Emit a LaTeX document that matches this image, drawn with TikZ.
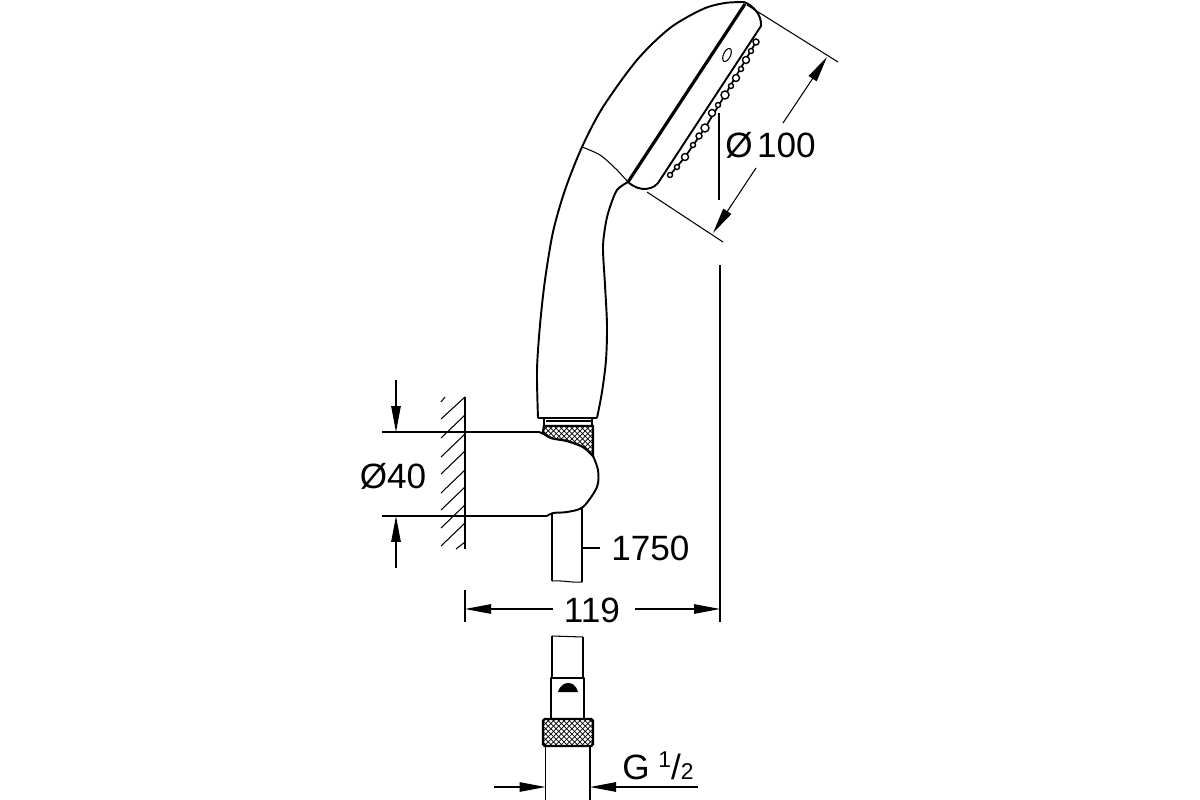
\documentclass[tikz,border=0pt]{standalone}
\usepackage{fontspec}
\setmainfont{Liberation Sans}
\usetikzlibrary{arrows.meta,patterns}
\tikzset{
	outline/.style={line width=1.1pt,line join=round},
	thinline/.style={line width=0.6pt},
	dimline/.style={line width=0.6pt,-{Triangle[length=0.52cm,width=0.19cm]}},
	dimtext/.style={inner sep=0pt,font=\fontsize{20}{24}\selectfont},
	knurl/.style={line width=1.3pt,pattern=crosshatch},
	nozzle/.style={line width=0.8pt,fill=white}
}
\begin{document}
\begin{tikzpicture}[x=0.02cm,y=-0.02cm]
	\useasboundingbox (0,0) rectangle (1200,800);

	% handle
	\draw[outline] plot[smooth] coordinates {(538,418) (537,370) (540,325) (545,280) (553,232) (565,190) (582,147) (603,107) (637,60) (670,28) (703,9) (725,3) (744,2)};
	\draw[outline] plot[smooth] coordinates {(597,418) (602,392) (606,360) (607,325) (605,285) (603,247) (606,222) (610,207) (617,190) (628,182)};
	\draw[outline] (538,418) -- (597,418);
	\draw[thinline] plot[smooth] coordinates {(582,147) (600,155) (616,169) (628,182)};

	% head
	\draw[line width=1.8pt] (745,4) -- (628,182);
	\draw[outline] (744,2) .. controls (752,5) and (762,14) .. (761,26) -- (660,180) .. controls (655,190) and (640,193) .. (628,182);
	\draw[thinline,rotate around={-25:(727,55)}] (727,55) ellipse (3.5 and 7);
	\draw[line width=1pt] (670,175) -- (685,157) -- (705,128) -- (725,95) -- (756,42);
	\draw[nozzle] (670,175) circle (2.5);
	\draw[nozzle] (677,167) circle (2.5);
	\draw[nozzle] (685,157) circle (3.5);
	\draw[nozzle] (693,145) circle (2.5);
	\draw[nozzle] (699,136) circle (3);
	\draw[nozzle] (705,128) circle (4);
	\draw[nozzle] (712,113) circle (3.5);
	\draw[nozzle] (718,105) circle (2.5);
	\draw[nozzle] (725,95) circle (4);
	\draw[nozzle] (731,86) circle (2.5);
	\draw[nozzle] (736,78) circle (3.5);
	\draw[nozzle] (741,69) circle (2.5);
	\draw[nozzle] (746,60) circle (3.5);
	\draw[nozzle] (751,51) circle (2.5);
	\draw[nozzle] (756,42) circle (3);

	% diameter 100
	\coordinate (headtop) at (747,5);
	\coordinate (headtopend) at (838,62);
	\coordinate (headlow) at (647,192);
	\coordinate (headlowend) at (723,242);
	\coordinate (dimtop) at (827,57);
	\coordinate (dimlow) at (713,233);
	\node[dimtext,anchor=base east] (dia) at (816,158) {Ø\hspace{2.5pt}100};
	\draw[thinline] (headtop) -- (headtopend);
	\draw[thinline] (headlow) -- (headlowend);
	\draw[dimline] (783,123) -- (dimtop);
	\draw[dimline] (756,168) -- (dimlow);
	\draw[thinline] (719,113) -- (719,200);

	% wall with hatching
	\draw[thinline] (465,397) -- (465,549);
	\draw[thinline] (441,402) -- (445,397);
	\draw[thinline] (441,419) -- (465,397);
	\draw[thinline] (441,438) -- (465,415);
	\draw[thinline] (441,457) -- (465,434);
	\draw[thinline] (441,474) -- (465,451);
	\draw[thinline] (441,493) -- (465,470);
	\draw[thinline] (441,510) -- (465,487);
	\draw[thinline] (441,528) -- (465,505);
	\draw[thinline] (441,546) -- (465,523);
	\draw[thinline] (456,549) -- (465,542);

	% holder
	\draw[knurl] plot[smooth] coordinates {(543,432) (551,438) (567,441) (583,447) (593,456)} -- (593,426) -- (544,426) -- cycle;
	\draw[outline] (544,418) -- (544,426);
	\draw[outline] (592,418) -- (592,426);
	\draw[thinline] (546,421) -- (591,421);
	\draw[outline] (465,432) -- (539,432);
	\draw[outline] (539,432) .. controls (543,433) and (546,436) .. (551,438);
	\draw[outline] plot[smooth] coordinates {(593,456) (598,470) (597,487) (583,507) (567,512) (553,513) (547,516)};
	\draw[outline] (465,516) -- (547,516);

	% hose
	\draw[outline] (552,514) -- (552,581);
	\draw[outline] (582,508) -- (582,582);
	\draw[thinline] (552,581) .. controls (562,580) and (572,583) .. (582,582);
	\node[dimtext,anchor=west] (hoselen) at (611,548) {1750};
	\draw[thinline] (582,548) -- (600,548);

	% diameter 40
	\node[dimtext] (wall40) at (393,476) {Ø40};
	\coordinate (holdtop) at (465,432);
	\coordinate (holdlow) at (465,516);
	\draw[thinline] (382,432) -- (holdtop);
	\draw[thinline] (382,516) -- (holdlow);
	\draw[dimline] (396,380) -- (396,432);
	\draw[dimline] (396,568) -- (396,516);

	% width 119
	\node[dimtext] (width) at (592,610) {119};
	\coordinate (widthL) at (465,609);
	\coordinate (widthR) at (720,609);
	\draw[thinline] (465,590) -- (465,622);
	\draw[thinline] (720,265) -- (720,622);
	\draw[dimline] (553,609) -- (widthL);
	\draw[dimline] (635,609) -- (widthR);

	% hose end with nut
	\draw[outline] (552,678) -- (552,636);
	\draw[thinline] (552,636) -- (583,637);
	\draw[outline] (583,637) -- (583,678);
	\draw[outline] (551,678) rectangle (584,719);
	\fill (558,692) .. controls (560,685) and (565,683) .. (568,683) .. controls (572,683) and (576,685) .. (578,692) -- cycle;
	\draw[knurl,rounded corners=1pt] (543,719) rectangle (593,746);
	\draw[outline] (545.5,746) -- (545.5,800);
	\draw[outline] (590,746) -- (590,800);

	% thread
	\node[dimtext,anchor=west] (thread) at (622,766) {G\hspace{5pt}\raisebox{7pt}{\fontsize{13}{13}\selectfont 1}/{\fontsize{13}{13}\selectfont 2}};
	\coordinate (threadL) at (545.5,787);
	\coordinate (threadR) at (590,787);
	\draw[dimline] (494,787) -- (threadL);
	\draw[dimline] (698,787) -- (threadR);
\end{tikzpicture}
\end{document}
